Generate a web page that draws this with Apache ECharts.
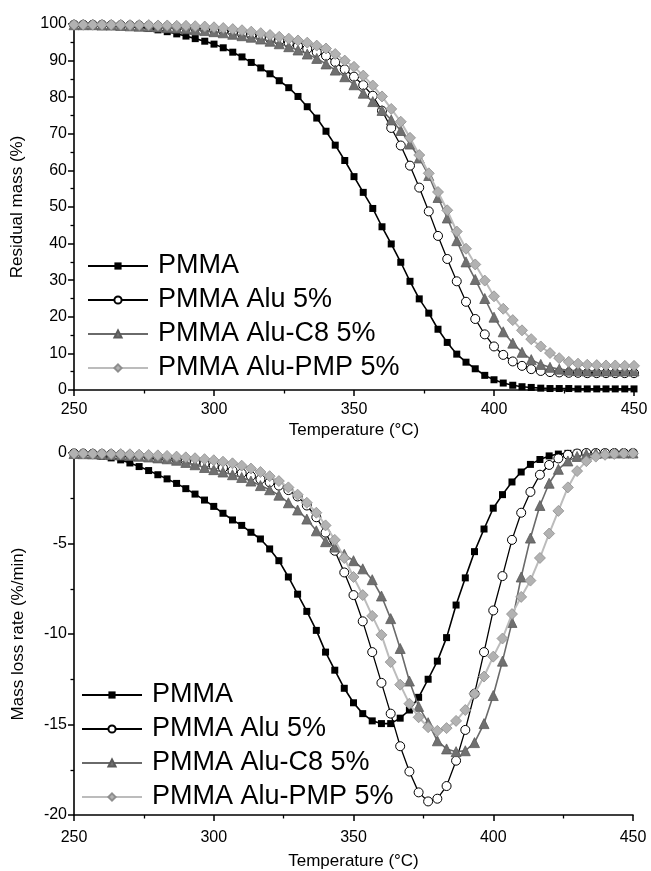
<!DOCTYPE html>
<html>
<head>
<meta charset="utf-8">
<script src="https://cdn.jsdelivr.net/npm/echarts@6/dist/echarts.min.js"></script>
<style>
html,body{margin:0;padding:0;background:#fff;}
#chart{width:651px;height:871px;}
</style>
</head>
<body>
<div id="chart"></div>
<script>
// Temperatures (°C) of the plotted points
const temps = [250,253.3,256.7,260,263.3,266.7,270,273.3,276.7,280,283.3,286.7,290,293.3,296.7,300,303.3,306.7,310,313.3,316.7,320,323.3,326.7,330,333.3,336.7,340,343.3,346.7,350,353.3,356.7,360,363.3,366.7,370,373.3,376.7,380,383.3,386.7,390,393.3,396.7,400,403.3,406.7,410,413.3,416.7,420,423.3,426.7,430,433.3,436.7,440,443.3,446.7,450];

const seriesNames = ['PMMA', 'PMMA Alu 5%', 'PMMA Alu-C8 5%', 'PMMA Alu-PMP 5%'];

// Residual mass (%)
const tgaPMMA = [99.8,99.8,99.7,99.7,99.6, 99.5,99.3,99.1,98.8,98.4, 97.9,97.3,96.7,96.0,95.3, 94.5,93.5,92.3,91.0,89.5, 88.0,86.4,84.5,82.6,80.2, 77.4,74.3,70.7,66.9,62.7, 58.3,54.0,49.6,44.6,39.9, 34.9,29.7,24.9,21.0,16.6, 13.0,9.8,7.6,5.8,4.0, 2.8,1.9,1.3,0.9,0.7, 0.5,0.4,0.4,0.4,0.3, 0.3,0.3,0.3,0.3,0.3,0.3];
const tgaAlu = [99.8,99.8,99.8,99.8,99.7, 99.7,99.6,99.6,99.5,99.4, 99.3,99.2,99.0,98.8,98.6, 98.3,98.0,97.7,97.3,96.9, 96.4,96.0,95.4,94.7,94.0, 93.2,92.3,91.3,89.6,87.6, 85.6,83.3,80.4,76.3,71.6, 66.8,61.3,55.3,48.8,42.1, 35.8,29.7,24.1,19.4,15.2, 11.9,9.6,7.8,6.6,5.7, 5.2,4.9,4.8,4.7,4.7, 4.6,4.6,4.6,4.6,4.6,4.6];
const tgaC8 = [99.8,99.8,99.8,99.7,99.7, 99.6,99.5,99.4,99.3,99.2, 99.0,98.9,98.7,98.5,98.2, 97.9,97.6,97.2,96.8,96.4, 95.9,95.3,94.6,93.8,92.9, 91.8,90.6,89.1,87.4,85.6, 83.4,81.1,78.8,76.4,73.8, 70.9,67.2,63.4,58.6,52.6, 47.0,40.8,35.0,30.2,25.0, 19.9,15.9,12.8,10.3,8.3, 7.0,6.2,5.7,5.4,5.3, 5.2,5.2,5.2,5.2,5.2,5.2];
const tgaPMP = [99.8,99.8,99.8,99.8,99.8, 99.8,99.7,99.7,99.7,99.6, 99.6,99.5,99.5,99.4,99.3, 99.1,98.9,98.6,98.3,97.9, 97.5,97.0,96.5,96.0,95.5, 94.9,94.1,93.3,91.8,90.0, 88.3,85.9,83.2,80.2,76.8, 73.3,68.9,64.2,59.2,54.1, 49.1,43.3,38.6,34.3,29.9, 25.6,22.2,19.1,16.3,13.9, 11.9,10.1,8.7,7.7,7.2, 6.9,6.8,6.7,6.7,6.6,6.6];

// Mass loss rate (%/min)
const dtgPMMA = [-0.05,-0.08,-0.12,-0.18,-0.27, -0.38,-0.55,-0.75,-0.97,-1.2, -1.43,-1.68,-1.97,-2.27,-2.6, -2.95,-3.33,-3.7,-4.0,-4.38, -4.75,-5.3,-5.95,-6.85,-7.8, -8.75,-9.8,-11.0,-12.0,-13.0, -13.8,-14.4,-14.8,-14.95,-14.95, -14.65,-14.2,-13.5,-12.5,-11.5, -10.2,-8.4,-6.9,-5.45,-4.2, -3.05,-2.3,-1.6,-1.05,-0.63, -0.36,-0.16,-0.06,-0.02,0, 0,0,0,0,0,0];
const dtgAlu = [-0.02,-0.03,-0.04,-0.05,-0.07, -0.09,-0.12,-0.15,-0.19,-0.24, -0.3,-0.37,-0.45,-0.52,-0.6, -0.7,-0.82,-0.97,-1.12,-1.28, -1.45,-1.62,-1.8,-2.05,-2.4, -2.9,-3.55,-4.4,-5.4,-6.6, -7.85,-9.3,-11.0,-12.7,-14.4, -16.2,-17.6,-18.75,-19.25,-19.1, -18.4,-17.0,-15.3,-13.3,-11.0, -8.7,-6.8,-4.8,-3.3,-2.15, -1.2,-0.66,-0.3,-0.1,-0.03, 0,0,0,0,0,0];
const dtgC8 = [-0.03,-0.04,-0.05,-0.07,-0.09, -0.11,-0.14,-0.18,-0.22,-0.27, -0.32,-0.4,-0.52,-0.65,-0.8, -0.92,-1.05,-1.2,-1.35,-1.55, -1.8,-2.03,-2.33,-2.75,-3.15, -3.65,-4.3,-4.9,-5.2,-5.6, -5.95,-6.4,-7.0,-7.9,-9.15, -10.8,-12.6,-14.0,-14.9,-15.9, -16.35,-16.5,-16.45,-16.0,-14.95, -13.4,-11.5,-9.36,-6.85,-4.7, -2.9,-1.67,-0.9,-0.44,-0.19, -0.07,-0.02,0,0,0,0];
const dtgPMP = [-0.03,-0.03,-0.04,-0.04,-0.05, -0.06,-0.07,-0.09,-0.11,-0.13, -0.16,-0.2,-0.24,-0.29,-0.34, -0.4,-0.48,-0.57,-0.7,-0.86, -1.05,-1.28,-1.55,-1.9,-2.3, -2.75,-3.3,-4.0,-4.8,-5.8, -6.85,-7.85,-9.0,-10.05,-11.55, -12.8,-13.85,-14.6,-15.15,-15.35, -15.2,-14.8,-14.2,-13.3,-12.35, -11.25,-10.25,-8.9,-7.95,-7.05, -5.8,-4.45,-3.2,-1.9,-1.0, -0.45,-0.2,-0.1,-0.05,-0.03,-0.02];

const xTitle = 'Temperature (°C)';
const yTitleTop = 'Residual mass (%)';
const yTitleBottom = 'Mass loss rate (%/min)';

const FONT = '"Liberation Sans", Arial, sans-serif';

const styles = [
  {symbol:'rect', symbolSize:7, line:{color:'#000', width:1.6}, item:{color:'#000', borderColor:'#000', borderWidth:0}},
  {symbol:'circle', symbolSize:9, line:{color:'#000', width:1.3}, item:{color:'#fff', borderColor:'#000', borderWidth:1}},
  {symbol:'triangle', symbolSize:10, line:{color:'#6a6a6a', width:1.6}, item:{color:'#707070', borderColor:'#5a5a5a', borderWidth:0.8}},
  {symbol:'diamond', symbolSize:11, line:{color:'#bcbcbc', width:2}, item:{color:'#b2b2b2', borderColor:'#8e8e8e', borderWidth:0.8}}
];

function mkSeries(name, vals, idx, g) {
  const s = styles[idx];
  return {
    name: name, type:'line', xAxisIndex:g, yAxisIndex:g,
    data: temps.map((t,i)=>[t, vals[i]]),
    symbol: s.symbol, symbolSize: s.symbolSize, showSymbol:true, showAllSymbol:true,
    lineStyle: s.line, itemStyle: s.item,
    z: 2 + idx, animation:false
  };
}

function mkX(g, nameGap, margin) {
  return {
    type:'value', gridIndex:g, min:250, max:450, interval:50,
    name:xTitle, nameLocation:'middle', nameGap:nameGap,
    nameTextStyle:{fontSize:17, color:'#000', fontFamily:FONT},
    axisLine:{show:true, onZero:false, lineStyle:{color:'#000', width:1.6}},
    axisTick:{show:true, inside:false, length:6, lineStyle:{color:'#000', width:1.5}},
    minorTick:{show:true, splitNumber:2, length:3.5, lineStyle:{color:'#000', width:1.3}},
    splitLine:{show:false}, minorSplitLine:{show:false},
    axisLabel:{fontSize:16, color:'#000', margin:margin, fontFamily:FONT}
  };
}
function mkY(g, min, max, interval, name, nameGap) {
  return {
    type:'value', gridIndex:g, min:min, max:max, interval:interval,
    name:name, nameLocation:'middle', nameGap:nameGap,
    nameTextStyle:{fontSize:17, color:'#000', fontFamily:FONT},
    axisLine:{show:true, onZero:false, lineStyle:{color:'#000', width:1.6}},
    axisTick:{show:true, inside:false, length:6, lineStyle:{color:'#000', width:1.5}},
    minorTick:{show:true, splitNumber:2, length:3.5, lineStyle:{color:'#000', width:1.3}},
    splitLine:{show:false}, minorSplitLine:{show:false},
    axisLabel:{fontSize:16, color:'#000', margin:7, fontFamily:FONT}
  };
}
function mkLegend(left, top) {
  return {
    left:left, top:top, padding:0, orient:'vertical', itemWidth:60, itemHeight:9, itemGap:4,
    selectedMode:false, data:seriesNames,
    textStyle:{fontSize:27, lineHeight:30, color:'#000', fontFamily:FONT, padding:[0,0,0,5]}
  };
}

const chart = echarts.init(document.getElementById('chart'), null, {renderer:'canvas'});
chart.setOption({
  animation:false,
  backgroundColor:'#fff',
  textStyle:{fontFamily:FONT},
  grid:[{left:74, top:24, width:560, height:366}, {left:74, top:453, width:559, height:364}],
  xAxis:[mkX(0, 32, 12), mkX(1, 38, 15)],
  yAxis:[mkY(0, 0, 100, 10, yTitleTop, 48), mkY(1, -20, 0, 5, yTitleBottom, 47)],
  legend:[mkLegend(87, 251), mkLegend(81, 680)],
  series:[
    mkSeries(seriesNames[0], tgaPMMA, 0, 0),
    mkSeries(seriesNames[1], tgaAlu, 1, 0),
    mkSeries(seriesNames[2], tgaC8, 2, 0),
    mkSeries(seriesNames[3], tgaPMP, 3, 0),
    mkSeries(seriesNames[0], dtgPMMA, 0, 1),
    mkSeries(seriesNames[1], dtgAlu, 1, 1),
    mkSeries(seriesNames[2], dtgC8, 2, 1),
    mkSeries(seriesNames[3], dtgPMP, 3, 1)
  ]
});
</script>
</body>
</html>
